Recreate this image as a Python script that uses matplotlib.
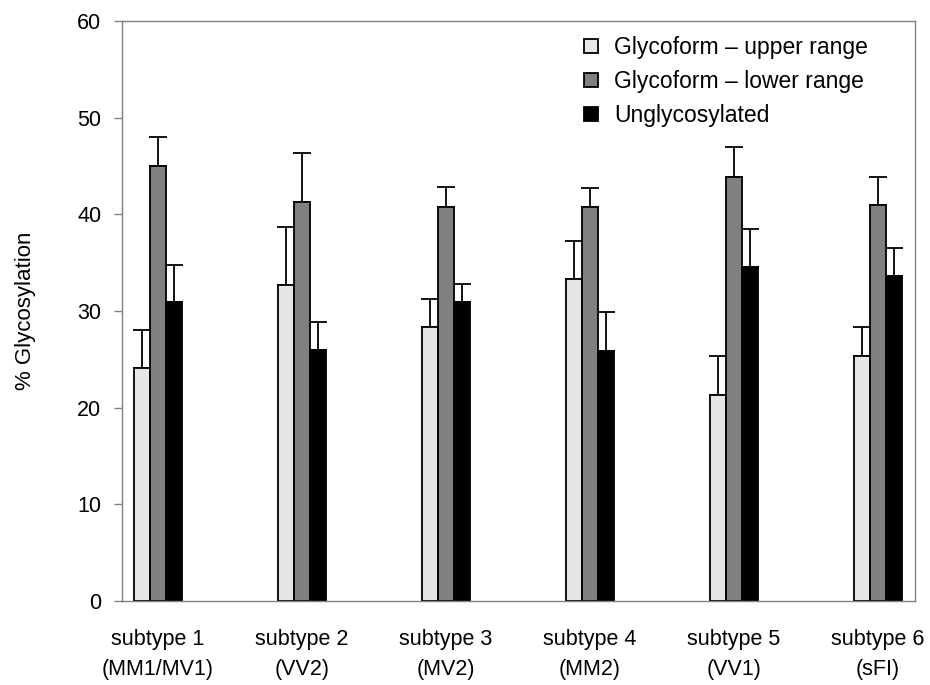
import numpy as np
import matplotlib
matplotlib.use("Agg")
import matplotlib.pyplot as plt

plt.rcParams['font.family'] = ['Liberation Sans', 'DejaVu Sans']

# data
categories = ["subtype 1\n(MM1/MV1)", "subtype 2\n(VV2)", "subtype 3\n(MV2)",
              "subtype 4\n(MM2)", "subtype 5\n(VV1)", "subtype 6\n(sFI)"]
series_names = ["Glycoform \u2013 upper range", "Glycoform \u2013 lower range", "Unglycosylated"]
upper_range = [24.1, 32.7, 28.3, 33.3, 21.3, 25.3]
upper_range_top = [28.0, 38.7, 31.2, 37.2, 25.3, 28.3]
lower_range = [45.0, 41.3, 40.8, 40.8, 43.9, 41.0]
lower_range_top = [48.0, 46.3, 42.8, 42.7, 47.0, 43.9]
unglyc = [30.9, 26.0, 30.9, 25.9, 34.6, 33.6]
unglyc_top = [34.8, 28.9, 32.8, 29.9, 38.5, 36.5]

colors = ["#e6e6e6", "#808080", "#000000"]
means = [upper_range, lower_range, unglyc]
tops = [upper_range_top, lower_range_top, unglyc_top]

fig = plt.figure(figsize=(9.3, 6.85), dpi=100)
ax = fig.add_axes([122 / 930, 84 / 685, 793 / 930, 580 / 685])

x = np.arange(len(categories))
w = 0.111
for i in range(3):
    m = np.array(means[i])
    err = np.array(tops[i]) - m
    pos = x + (i - 1) * w
    ax.bar(pos, m, width=w, color=colors[i], edgecolor="black", linewidth=1.3,
           label=series_names[i], zorder=2)
    ax.errorbar(pos, m, yerr=[np.zeros_like(err), err], fmt="none", ecolor="black",
                elinewidth=1.3, capsize=6.5, capthick=1.3, zorder=1)

ax.set_xlim(-0.25, 5.257)
ax.set_ylim(0, 60)
ax.set_yticks(range(0, 61, 10))
ax.set_xticks(x)
ax.set_xticklabels(categories, fontsize=15.5, linespacing=1.55)
ax.tick_params(axis="x", length=0, pad=20)
ax.tick_params(axis="y", labelsize=15.5, length=6, width=1, color="#808080", pad=9)
for s in ax.spines.values():
    s.set_color("#808080")
    s.set_linewidth(1)

ax.set_ylabel("% Glycosylation", fontsize=16)
ax.yaxis.set_label_coords(-86 / 793, 0.5)

ax.legend(loc="upper left", bbox_to_anchor=(575 / 930, 658 / 685),
          bbox_transform=fig.transFigure, frameon=False, fontsize=16.5,
          handlelength=0.6, handleheight=0.6, labelspacing=0.48,
          handletextpad=0.7, borderaxespad=0)

fig.savefig("out.png", dpi=100)
